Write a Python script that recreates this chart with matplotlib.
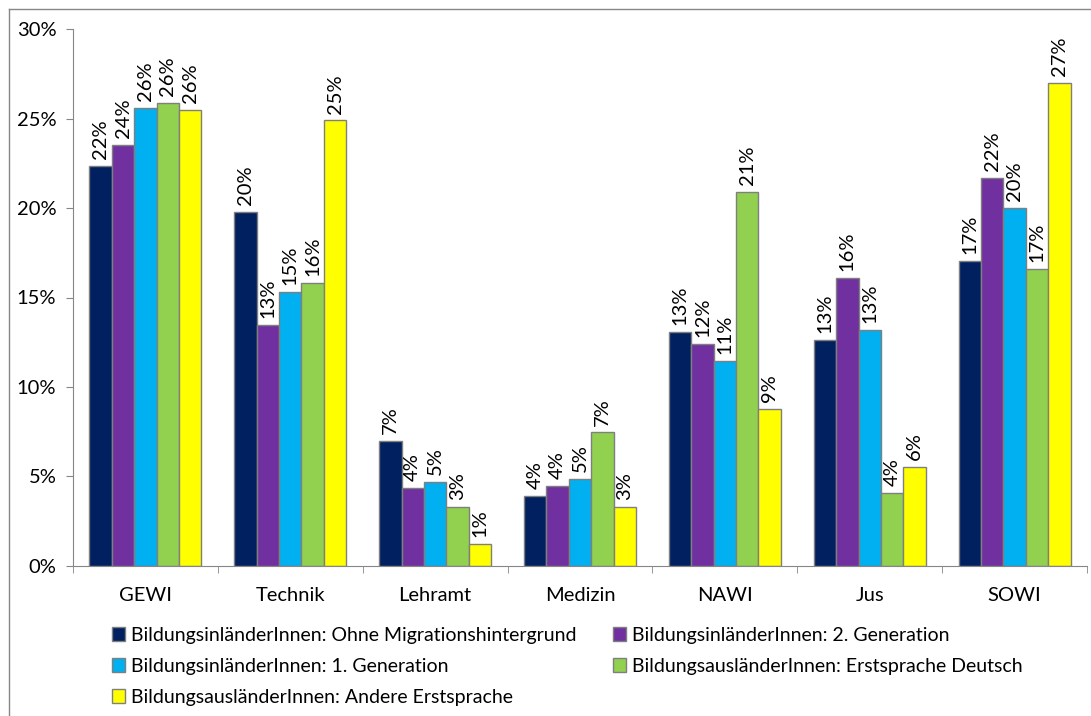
import numpy as np
import matplotlib
matplotlib.use('Agg')
from matplotlib import pyplot as plt
from matplotlib.lines import Line2D

plt.rcParams['font.family'] = ['Lato', 'DejaVu Sans']

categories = ['GEWI', 'Technik', 'Lehramt', 'Medizin', 'NAWI', 'Jus', 'SOWI']
series_names = ['BildungsinländerInnen: Ohne Migrationshintergrund',
                'BildungsinländerInnen: 2. Generation',
                'BildungsinländerInnen: 1. Generation',
                'BildungsausländerInnen: Erstsprache Deutsch',
                'BildungsausländerInnen: Andere Erstsprache']
colors = ['#002060', '#7030A0', '#00B0F0', '#92D050', '#FFFF00']

ohne_migration = [22.35, 19.8, 6.96, 3.9, 13.07, 12.6, 17.06]
zweite_gen = [23.55, 13.45, 4.35, 4.45, 12.4, 16.1, 21.7]
erste_gen = [25.6, 15.3, 4.68, 4.85, 11.45, 13.2, 20.0]
aus_deutsch = [25.9, 15.8, 3.3, 7.45, 20.9, 4.05, 16.6]
aus_andere = [25.5, 24.9, 1.2, 3.27, 8.75, 5.53, 27.0]
all_series = [ohne_migration, zweite_gen, erste_gen, aus_deutsch, aus_andere]

fig = plt.figure(figsize=(10.91, 7.16), dpi=100)
ax = fig.add_axes([73 / 1091, 1 - 565.7 / 716, (1087 - 73) / 1091, (565.7 - 29.3) / 716])

x = np.arange(len(categories))
w = 0.1545
handles = []
for i, (vals, col, name) in enumerate(zip(all_series, colors, series_names)):
    pos = x + (i - 2) * w
    bars = ax.bar(pos, vals, width=w, color=col, edgecolor='#7f7f7f', linewidth=1, label=name)
    handles.append(bars)
    for xp, v in zip(pos, vals):
        ax.annotate('{}%'.format(int(round(v))), (xp, v), xytext=(0, 5), textcoords='offset points',
                    rotation=90, ha='center', va='bottom', fontsize=14.5)

ax.set_xlim(-0.5, 6.5)
ax.set_ylim(0, 30)
ax.set_yticks(np.arange(0, 31, 5))
ax.set_yticklabels(['{}%'.format(v) for v in range(0, 31, 5)], fontsize=14.5)
ax.set_xticks(x)
ax.set_xticklabels(categories, fontsize=14.5)
ax.set_xticks(np.arange(-0.5, 7, 1), minor=True)
ax.tick_params(axis='x', which='major', length=0, pad=15)
ax.tick_params(axis='x', which='minor', length=5, direction='out', color='#868686')
ax.tick_params(axis='y', length=5, direction='out', color='#868686', pad=7)
for s in ['top', 'right']:
    ax.spines[s].set_visible(False)
for s in ['left', 'bottom']:
    ax.spines[s].set_color('#868686')

# outer chart frame (only top and left visible in the crop)
fx = 9 / 1091
fy = 1 - 9 / 716
fig.add_artist(Line2D([fx, fx], [0, fy], transform=fig.transFigure, color='#868686', linewidth=1))
fig.add_artist(Line2D([fx, 1], [fy, fy], transform=fig.transFigure, color='#868686', linewidth=1))

order = [0, 2, 4, 1, 3]
fig.legend([handles[i] for i in order], [series_names[i] for i in order], ncol=2,
           loc='upper left', bbox_to_anchor=(102 / 1091, 1 - 617 / 716), frameon=False,
           fontsize=14, handlelength=0.7, handleheight=0.7, handletextpad=0.3,
           labelspacing=0.72, columnspacing=1.85, borderpad=0)

fig.savefig('out.png', dpi=100)
